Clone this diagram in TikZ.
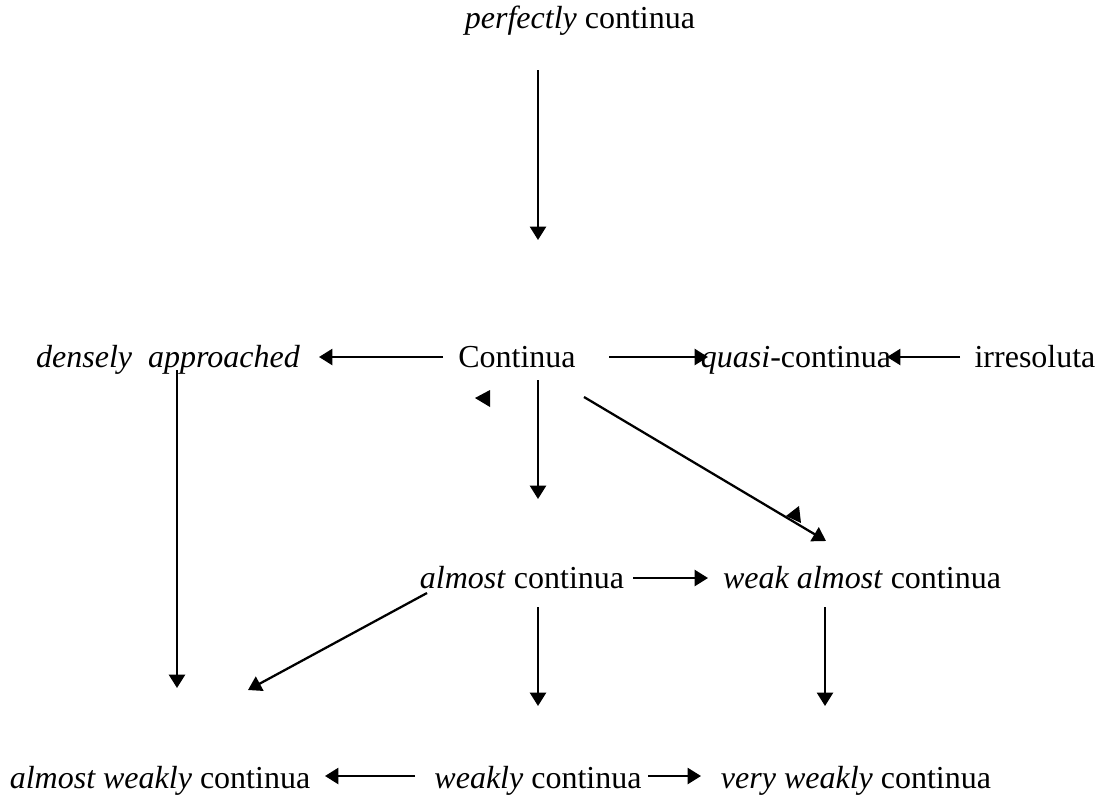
\documentclass[tikz,border=0pt]{standalone}
\usepackage{fontspec}
\setmainfont{Liberation Serif}
\usetikzlibrary{arrows.meta}
\begin{document}
\begin{tikzpicture}[x=0.75pt,y=-0.75pt,
  lbl/.style={anchor=base,inner sep=0pt,font=\fontsize{24}{28}\selectfont},
  arr/.style={line width=1.7pt,-{Triangle[length=10pt,width=12pt]}},
  tipmark/.style={fill=black,draw=none}]
\useasboundingbox (0,0) rectangle (1111,796);
% nodes
\node[lbl] (perf) at (580,28) {\textit{perfectly} continua};
\node[lbl] (dens) at (168,367) {\textit{densely\ \ approached}};
\node[lbl] (cont) at (517,367) {Continua};
\node[lbl] (quasi) at (796,367) {\textit{quasi}-continua};
\node[lbl] (irr) at (1035,367) {irresoluta};
\node[lbl] (alm) at (522,588) {\textit{almost} continua};
\node[lbl] (walm) at (862,588) {\textit{weak almost} continua};
\node[lbl] (awk) at (160,788) {\textit{almost weakly} continua};
\node[lbl] (wk) at (538,788) {\textit{weakly} continua};
\node[lbl] (vwk) at (856,788) {\textit{very weakly} continua};
% connector end points
\coordinate (p1) at (538,70);  \coordinate (p2) at (538,240);
\coordinate (c1) at (443,357); \coordinate (c2) at (319,357);
\coordinate (c3) at (609,357); \coordinate (c4) at (708,357);
\coordinate (i1) at (960,357); \coordinate (i2) at (887,357);
\coordinate (v1) at (538,380); \coordinate (v2) at (538,499);
\coordinate (d1) at (584,397); \coordinate (d2) at (826,541);
\coordinate (a1) at (633,578); \coordinate (a2) at (708,578);
\coordinate (l1) at (177,370); \coordinate (l2) at (177,688);
\coordinate (g1) at (427,593); \coordinate (g2) at (248,690);
\coordinate (m1) at (538,607); \coordinate (m2) at (538,706);
\coordinate (r1) at (825,607); \coordinate (r2) at (825,706);
\coordinate (b1) at (415,776); \coordinate (b2) at (325,776);
\coordinate (b3) at (648,776); \coordinate (b4) at (701,776);
% connectors
\draw[arr] (p1) -- (p2);
\draw[arr] (c1) -- (c2);
\draw[arr] (c3) -- (c4);
\draw[arr] (i1) -- (i2);
\draw[arr] (v1) -- (v2);
\draw[arr] (d1) -- (d2);
\draw[arr] (a1) -- (a2);
\draw[arr] (l1) -- (l2);
\draw[arr] (g1) -- (g2);
\draw[arr] (m1) -- (m2);
\draw[arr] (r1) -- (r2);
\draw[arr] (b1) -- (b2);
\draw[arr] (b3) -- (b4);
% stray arrowheads
\fill[tipmark] (475,398) -- (490,390) -- (490,407) -- cycle;
\fill[tipmark] (786,516) -- (799,506) -- (801,523) -- cycle;
\end{tikzpicture}
\end{document}
